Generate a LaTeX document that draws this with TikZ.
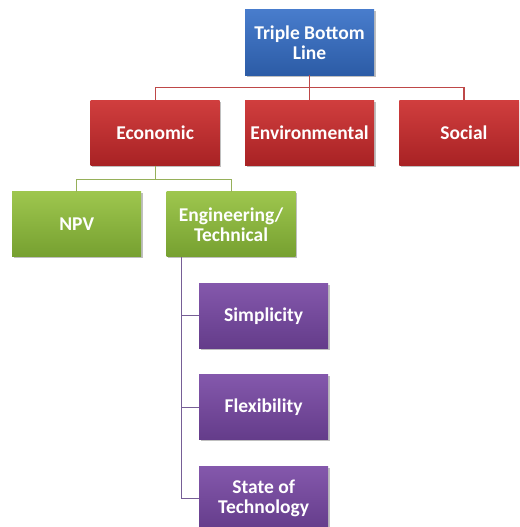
\documentclass[tikz,border=0pt]{standalone}
\usepackage{fontspec}
\setmainfont{Carlito}
\usepackage{tikz}
\usetikzlibrary{positioning,shadows}
\definecolor{bluetop}{RGB}{72,124,204}
\definecolor{bluebot}{RGB}{44,92,166}
\definecolor{redtop}{RGB}{208,62,62}
\definecolor{redbot}{RGB}{168,34,36}
\definecolor{greentop}{RGB}{158,198,78}
\definecolor{greenbot}{RGB}{118,160,48}
\definecolor{purptop}{RGB}{132,88,172}
\definecolor{purpbot}{RGB}{100,60,138}
\definecolor{redln}{RGB}{190,72,72}
\definecolor{greenln}{RGB}{150,176,90}
\definecolor{purpln}{RGB}{118,94,150}
\tikzstyle{box}=[rectangle, minimum width=129pt, minimum height=65pt, inner sep=2pt, align=center,
  text=white, font=\bfseries\fontsize{19.5}{20}\selectfont,
  drop shadow={shadow xshift=1.5pt, shadow yshift=-1.5pt, fill=black, opacity=0.25}]
\tikzstyle{bbox}=[box, top color=bluetop, bottom color=bluebot]
\tikzstyle{rbox}=[box, top color=redtop, bottom color=redbot]
\tikzstyle{gbox}=[box, top color=greentop, bottom color=greenbot]
\tikzstyle{pbox}=[box, top color=purptop, bottom color=purpbot]
\tikzstyle{rln}=[draw=redln, line width=1.2pt]
\tikzstyle{gln}=[draw=greenln, line width=1.2pt]
\tikzstyle{pln}=[draw=purpln, line width=1.2pt]

\begin{document}
\begin{tikzpicture}[x=1pt, y=1pt, node distance=25pt]
  \clip (0,0) rectangle (519,-527);
  \useasboundingbox (0,0) rectangle (519,-527);
%
  \node[bbox] (tbl) at (309.5,-42.5) {Triple Bottom\\Line};
  \node[rbox] (env) [below = 25pt of tbl] {Environmental};
  \node[rbox] (econ) [left = of env] {Economic};
  \node[rbox] (soc) [right = of env] {Social};
%
  \draw[rln] (tbl.south) -- ++(0,-12.5) -| (econ.north);
  \draw[rln] (tbl.south) -- (env.north);
  \draw[rln] (tbl.south) -- ++(0,-12.5) -| (soc.north);
%
  \node[gbox] (eng) [below = 26pt of econ, xshift=76pt] {Engineering/\\Technical};
  \node[gbox] (npv) [left = of eng] {NPV};
%
  \draw[gln] (econ.south) -- ++(0,-13.5) -| (npv.north);
  \draw[gln] (econ.south) -- ++(0,-13.5) -| (eng.north);
%
  \node[pbox] (simp) [below = 26pt of eng, xshift=32.5pt] {Simplicity};
  \node[pbox] (flex) [below = 26pt of simp] {Flexibility};
  \node[pbox] (sot) [below = 26pt of flex] {State of\\Technology};
%
  \coordinate (spine) at ([xshift=15pt]eng.south west);
  \draw[pln] (spine) |- (simp.west);
  \draw[pln] (spine) |- (flex.west);
  \draw[pln] (spine) |- (sot.west);
\end{tikzpicture}
\end{document}
